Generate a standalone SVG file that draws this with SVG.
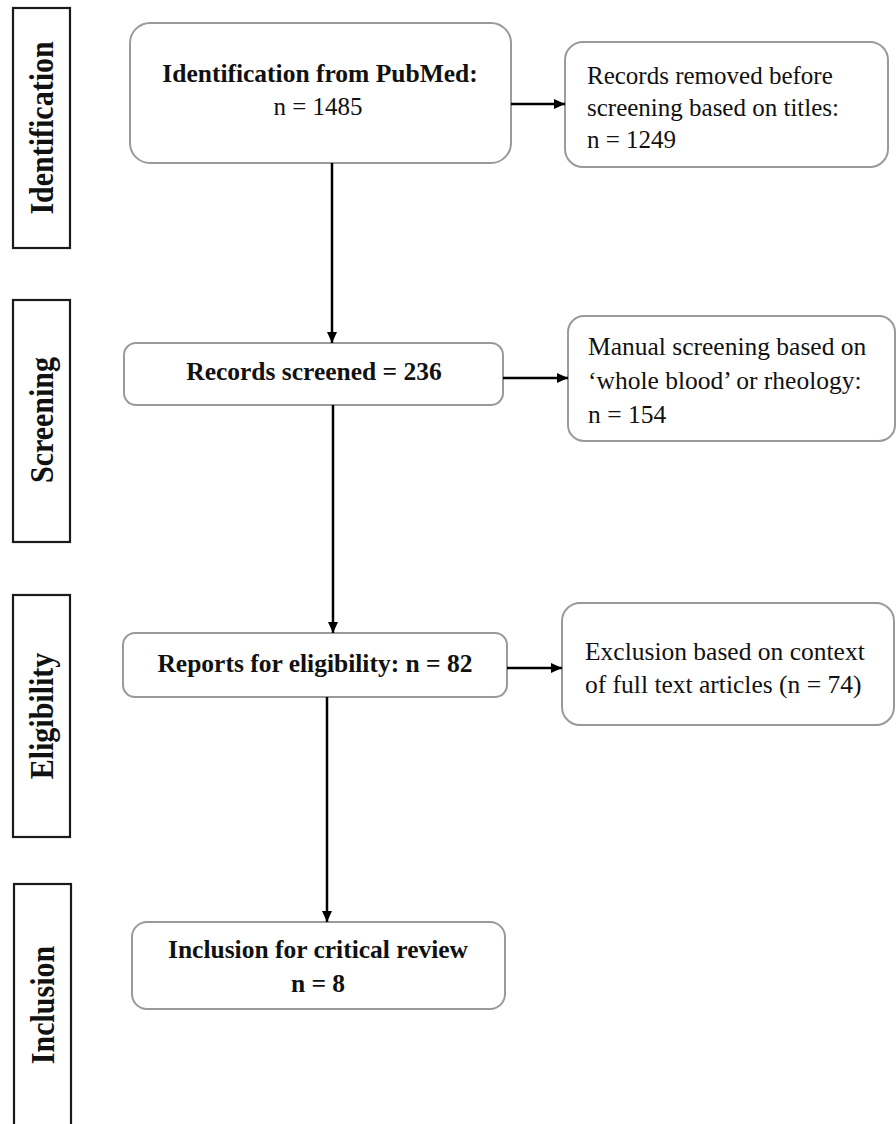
<svg xmlns="http://www.w3.org/2000/svg" width="896" height="1124" viewBox="0 0 896 1124">
<defs>
<style>
.box{fill:#fff;stroke:#9a9a9a;stroke-width:2}
.lab{fill:#fff;stroke:#1a1a1a;stroke-width:2.2}
.b{font-family:"Liberation Serif","Times New Roman",serif;font-weight:bold;fill:#111;font-size:25.5px}
.r{font-family:"Liberation Serif","Times New Roman",serif;fill:#111;font-size:25px}
.side{font-family:"Liberation Serif","Times New Roman",serif;font-weight:bold;fill:#111;font-size:30px;text-anchor:middle}
.c{text-anchor:middle}
.conn{stroke:#000;stroke-width:2.5;fill:none;marker-end:url(#ah)}
</style>
<marker id="ah" markerUnits="userSpaceOnUse" markerWidth="12" markerHeight="11" refX="11" refY="5.5" orient="auto">
<path d="M0,0.5 L11,5.5 L0,10.5 z" fill="#000"/>
</marker>
</defs>
<rect width="896" height="1124" fill="#fff"/>

<g id="label-identification">
<rect class="lab" x="13" y="8" width="57" height="240"/>
<text class="side" transform="translate(53,128) rotate(-90) scale(1,1.15)">Identification</text>
</g>
<g id="label-screening">
<rect class="lab" x="13" y="300" width="57" height="242"/>
<text class="side" transform="translate(53,420) rotate(-90) scale(1,1.15)">Screening</text>
</g>
<g id="label-eligibility">
<rect class="lab" x="13" y="595" width="57" height="242"/>
<text class="side" transform="translate(53,716) rotate(-90) scale(1,1.15)">Eligibility</text>
</g>
<g id="label-inclusion">
<rect class="lab" x="14" y="884" width="57" height="250"/>
<text class="side" transform="translate(54,1005) rotate(-90) scale(1,1.15)">Inclusion</text>
</g>

<g id="node-identification">
<rect class="box" x="130" y="23" width="381" height="140" rx="20"/>
<text class="b c" x="320" y="82">Identification from PubMed:</text>
<text class="r c" x="318" y="115">n = 1485</text>
</g>
<g id="node-removed">
<rect class="box" x="565" y="42" width="323" height="125" rx="18"/>
<text class="r" x="587" y="84">Records removed before</text>
<text class="r" x="587" y="116">screening based on titles:</text>
<text class="r" x="587" y="148">n = 1249</text>
</g>
<g id="node-screened">
<rect class="box" x="124" y="343" width="379" height="62" rx="12"/>
<text class="b c" x="314" y="380">Records screened = 236</text>
</g>
<g id="node-manual">
<rect class="box" x="568" y="316" width="327" height="125" rx="16"/>
<text class="r" x="588" y="355" style="font-size:25.5px">Manual screening based on</text>
<text class="r" x="588" y="389" style="font-size:25.5px">‘whole blood’ or rheology:</text>
<text class="r" x="588" y="423" style="font-size:25.5px">n = 154</text>
</g>
<g id="node-eligibility">
<rect class="box" x="123" y="633" width="384" height="64" rx="12"/>
<text class="b c" x="315" y="672">Reports for eligibility: n = 82</text>
</g>
<g id="node-exclusion">
<rect class="box" x="562" y="603" width="332" height="122" rx="18"/>
<text class="r" x="585" y="660" style="font-size:25.5px">Exclusion based on context</text>
<text class="r" x="585" y="693" style="font-size:25.5px">of full text articles (n = 74)</text>
</g>
<g id="node-inclusion">
<rect class="box" x="132" y="922" width="373" height="87" rx="15"/>
<text class="b c" x="318" y="958">Inclusion for critical review</text>
<text class="b c" x="318" y="992">n = 8</text>
</g>

<g id="connectors">
<line class="conn" x1="332" y1="163" x2="332" y2="343"/>
<line class="conn" x1="333" y1="405" x2="333" y2="633"/>
<line class="conn" x1="327" y1="697" x2="327" y2="922"/>
<line class="conn" x1="511" y1="104" x2="565" y2="104"/>
<line class="conn" x1="503" y1="378" x2="568" y2="378"/>
<line class="conn" x1="507" y1="668" x2="562" y2="668"/>
</g>
</svg>
